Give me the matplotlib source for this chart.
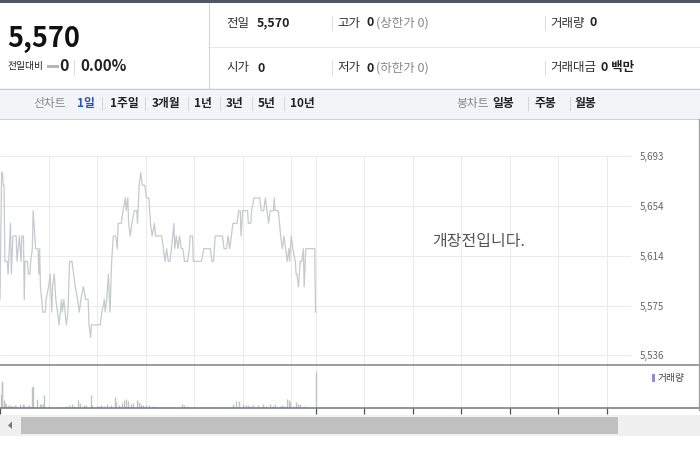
import matplotlib
matplotlib.use("Agg")
import matplotlib.pyplot as plt
from matplotlib.patches import Rectangle, Polygon
from matplotlib.lines import Line2D

plt.rcParams['font.family'] = ['Noto Sans CJK KR', 'DejaVu Sans']

W, H = 700, 450

# quote summary
prev_close = 5570
last_price = 5570
change = 0
change_pct = 0.0

# intraday price (minutes after 09:00, price in won)
times = [0, 2, 3, 4, 5, 6, 9, 10, 13, 14, 16, 20, 21, 24, 26, 27, 29, 30, 31, 34,
         35, 37, 38, 40, 41, 44, 47, 48, 49, 50, 53, 56, 57, 60, 62, 64, 65, 67, 69, 71,
         73, 76, 77, 79, 82, 84, 86, 89, 91, 93, 96, 98, 100, 103, 106, 109, 110, 112, 113, 124,
         126, 129, 130, 132, 134, 136, 138, 140, 143, 145, 146, 150, 152, 155, 156, 158, 159, 161, 163, 166,
         169, 170, 172, 174, 176, 179, 181, 184, 186, 188, 191, 192, 200, 202, 204, 206, 208, 210, 212, 215,
         216, 218, 220, 222, 224, 226, 228, 232, 234, 235, 238, 239, 249, 252, 260, 262, 264, 266, 275, 277,
         280, 282, 284, 286, 288, 293, 295, 297, 298, 300, 306, 307, 310, 311, 314, 321, 323, 326, 328, 330,
         332, 334, 338, 339, 340, 344, 347, 349, 351, 353, 355, 357, 358, 360, 362, 365, 366, 367, 369, 371,
         373, 375, 376, 378, 389, 390]
prices = [5580, 5680, 5680, 5670, 5670, 5610, 5610, 5600, 5640, 5600, 5630, 5630, 5610, 5630, 5610, 5630, 5630, 5580, 5610, 5610,
          5600, 5600, 5610, 5620, 5650, 5620, 5620, 5600, 5620, 5590, 5570, 5570, 5580, 5590, 5600, 5570, 5590, 5600, 5580, 5570,
          5560, 5580, 5570, 5580, 5560, 5570, 5610, 5610, 5600, 5590, 5580, 5570, 5580, 5590, 5580, 5580, 5560, 5550, 5560, 5560,
          5570, 5580, 5570, 5580, 5600, 5570, 5610, 5630, 5630, 5620, 5640, 5640, 5650, 5660, 5650, 5660, 5640, 5630, 5640, 5650,
          5650, 5640, 5670, 5680, 5670, 5670, 5660, 5660, 5640, 5630, 5640, 5630, 5630, 5620, 5610, 5620, 5610, 5610, 5620, 5640,
          5620, 5630, 5620, 5630, 5620, 5620, 5610, 5610, 5620, 5630, 5630, 5610, 5610, 5620, 5620, 5610, 5610, 5630, 5630, 5620,
          5620, 5630, 5620, 5630, 5640, 5640, 5650, 5650, 5630, 5650, 5650, 5640, 5640, 5650, 5660, 5660, 5650, 5650, 5660, 5650,
          5640, 5650, 5650, 5660, 5650, 5650, 5630, 5620, 5630, 5620, 5610, 5620, 5610, 5630, 5620, 5610, 5600, 5600, 5590, 5610,
          5610, 5620, 5590, 5620, 5620, 5570]

# volume per minute (thousand shares)
vol_times = [1, 2, 3, 5, 6, 8, 10, 12, 14, 16, 19, 20, 25, 28, 30, 33, 36, 40, 41, 46,
             49, 51, 53, 54, 60, 72, 74, 82, 85, 89, 91, 97, 99, 104, 106, 112, 114, 120, 122, 125,
             129, 132, 137, 142, 144, 147, 151, 153, 156, 158, 162, 164, 169, 172, 174, 177, 180, 184, 188, 192,
             195, 200, 204, 211, 225, 227, 231, 234, 240, 247, 253, 258, 262, 279, 288, 292, 295, 300, 304, 307,
             310, 313, 319, 325, 329, 334, 337, 340, 346, 349, 351, 355, 357, 358, 362, 366, 368, 371, 373, 377,
             390]
vol_values = [39, 76, 70, 22, 14, 11, 10, 8, 7, 6, 8, 7, 11, 13, 8, 6, 8, 60, 62, 27,
              11, 11, 11, 36, 6, 4, 3, 6, 8, 11, 7, 22, 14, 8, 8, 36, 8, 6, 6, 8,
              6, 11, 8, 32, 17, 8, 14, 22, 27, 20, 11, 14, 22, 17, 11, 8, 8, 8, 6, 6,
              4, 4, 4, 3, 11, 8, 6, 4, 4, 3, 3, 3, 3, 3, 11, 20, 21, 11, 8, 8,
              6, 8, 8, 11, 6, 11, 6, 11, 6, 8, 6, 25, 22, 18, 6, 17, 13, 11, 4, 6,
              100]

price_levels = [5536, 5575, 5614, 5654, 5693]
grid_times = [60, 120, 180, 240, 300, 360, 390, 450, 510, 570, 630, 690, 750]
tick_times = [0, 390, 450, 510, 570, 630, 690, 750]

LINE = '#c6c9ce'
GRID = '#ebebeb'


def fx(x):
    return x / W


def fy(y):
    return 1 - y / H


def box(x0, y0, x1, y1, color, **kw):
    fig.patches.append(Rectangle((fx(x0), fy(y1)), (x1 - x0) / W, (y1 - y0) / H,
                                 transform=fig.transFigure, facecolor=color,
                                 edgecolor='none', **kw))


def hline(y, x0, x1, color, lw=0.75):
    fig.lines.append(Line2D([fx(x0), fx(x1)], [fy(y), fy(y)], transform=fig.transFigure,
                            color=color, lw=lw))


def vline(x, y0, y1, color, lw=0.75):
    fig.lines.append(Line2D([fx(x), fx(x)], [fy(y0), fy(y1)], transform=fig.transFigure,
                            color=color, lw=lw))


def label(x, y, s, size=9, color='#333', bold=False, **kw):
    fig.text(fx(x), fy(y), s, fontsize=size, color=color,
             fontweight='bold' if bold else 'normal', va='center', ha='left', **kw)


fig = plt.figure(figsize=(7, 4.5), dpi=100)
fig.patch.set_facecolor('white')

# header
box(0, 0, 700, 3, '#4f5561')
vline(208.5, 3, 88, '#d3d3d3')
hline(46.5, 208, 700, '#e6e6e6')

fig.text(fx(7), fy(47), f"{last_price:,}", fontsize=19.5, fontweight='bold',
         color='#111', va='baseline', ha='left')
label(8, 66.5, "전일대비", size=7, color='#222')
box(46.5, 64.5, 58.5, 68, '#b5b5b5')
label(59, 66, f"{change}", size=11.5, color='#222', bold=True)
vline(73.5, 60, 74, '#dddddd')
label(80, 66, f"{change_pct:.2f}%", size=11, color='#222', bold=True)

for y, items in [(23, [(226, "전일", False, '#333'), (257, f"{prev_close:,}", True, '#222'),
                       (337, "고가", False, '#333'), (366, "0", True, '#222'),
                       (376, "(상한가 0)", False, '#888'), (550, "거래량", False, '#333'),
                       (590, "0", True, '#222')]),
                 (68, [(226, "시가", False, '#333'), (257, "0", True, '#222'),
                       (337, "저가", False, '#333'), (366, "0", True, '#222'),
                       (376, "(하한가 0)", False, '#888'), (550, "거래대금", False, '#333'),
                       (601, "0 백만", True, '#222')])]:
    for x, s, b, c in items:
        label(x, y, s, size=9, color=c, bold=b)
    vline(331.5, y - 7, y + 7, '#dddddd')
    vline(544.5, y - 7, y + 7, '#dddddd')

# period tabs
box(0, 88, 700, 119, '#f2f4f7')
hline(88.5, 0, 700, '#c9cbcf')
hline(118.8, 0, 700, '#d0d2d6')
label(33, 103, "선차트", size=8.5, color='#888')
label(77, 103, "1일", size=8.5, color='#2b54b0', bold=True)
for x, s in [(110, "1주일"), (152, "3개월"), (194, "1년"), (226, "3년"), (258, "5년"), (290, "10년")]:
    label(x, 103, s, size=8.5, color='#222', bold=True)
for x in [102, 145, 188, 220, 252, 284, 528, 569.5]:
    vline(x, 97, 110, '#d6d6d6')
label(456, 103, "봉차트", size=8.5, color='#888')
for x, s in [(492, "일봉"), (535, "주봉"), (574, "월봉")]:
    label(x, 103, s, size=8.5, color='#222', bold=True)

# price panel
y_px_per_won = 199.3 / (price_levels[-1] - price_levels[0])
ytop = price_levels[-1] + (156 - 140) / y_px_per_won
ybot = price_levels[-1] - (365.3 - 156) / y_px_per_won
ax = fig.add_axes([0, fy(365.3), 631 / W, (365.3 - 140) / H])
ax.set_xlim(0, 780)
ax.set_ylim(ybot, ytop)
ax.hlines(price_levels, 0, 780, color=GRID, lw=0.75, zorder=0)
ax.vlines(grid_times, ybot, price_levels[-1], color=GRID, lw=0.75, zorder=0)
ax.plot(times, prices, color=LINE, lw=0.9, zorder=2)
ax.set_xticks([])
ax.set_yticks(price_levels)
ax.set_yticklabels([f"{v:,}" for v in price_levels])
ax.yaxis.tick_right()
ax.tick_params(axis='y', length=0, pad=6.5, labelsize=7, labelcolor='#666')
for s in ax.spines.values():
    s.set_visible(False)
ax.patch.set_alpha(0)
ax.text(479 / 631, (365.3 - 241.5) / 225.3, "개장전입니다.", transform=ax.transAxes,
        fontsize=11.5, color='#555', ha='center', va='center')

hline(365.3, 0, 700, '#7d8187', lw=1.1)

# volume panel
vax = fig.add_axes([0, fy(408.3), 631 / W, (408.3 - 365.3) / H])
vax.set_xlim(0, 780)
vax.set_ylim(0, 120)
vax.vlines(grid_times, 0, 120, color=GRID, lw=0.75, zorder=0)
vax.vlines(vol_times, 0, vol_values, color='#bfc2c7', lw=1.0, zorder=2)
vax.set_yticks([])
vax.set_xticks(tick_times)
vax.set_xticklabels([])
vax.tick_params(axis='x', length=4.3, width=0.9, color='#555', direction='out')
for s in vax.spines.values():
    s.set_visible(False)
vax.patch.set_alpha(0)

hline(408.3, 0, 700, '#70757c', lw=1.1)
vline(699.3, 119, 410, '#9a9da2', lw=0.9)

box(652, 373.5, 654.8, 382, '#9a8bc6')
label(657.5, 378, "거래량", size=7, color='#444')

# scrollbar
box(0, 414.5, 700, 436, '#f0f0f0')
box(21, 416.7, 618, 434, '#c0c0c0')
fig.patches.append(Polygon([(fx(8), fy(425.3)), (fx(12), fy(421.5)), (fx(12), fy(429))],
                           closed=True, transform=fig.transFigure,
                           facecolor='#777', edgecolor='none'))

fig.savefig("out.png", dpi=100)
